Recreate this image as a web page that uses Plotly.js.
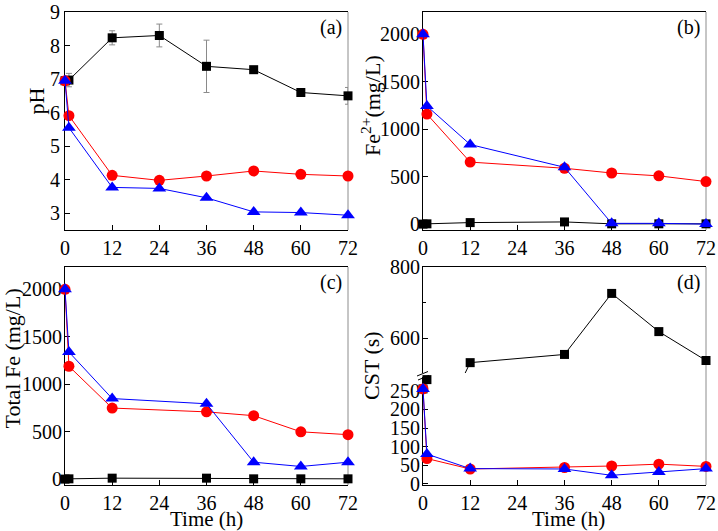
<!DOCTYPE html>
<html>
<head>
<meta charset="utf-8">
<script src="https://cdn.plot.ly/plotly-3.0.1.min.js"></script>
<style>html,body{margin:0;padding:0;background:#fff;}#chart{width:718px;height:531px;}</style>
</head>
<body>
<div id="chart"></div>
<script>
// ---- data ----
const timeA = [0, 1, 12, 24, 36, 48, 60, 72];
const timeBCD = [0, 1, 12, 36, 48, 60, 72];
const xTicks = [0, 12, 24, 36, 48, 60, 72];

const pHBlack = [6.95, 6.97, 8.23, 8.30, 7.38, 7.28, 6.60, 6.50];
const pHBlackErr = [0, 0.20, 0.21, 0.34, 0.78, 0.05, 0.05, 0.25];
const pHRed = [6.95, 5.91, 4.13, 3.98, 4.11, 4.26, 4.16, 4.11];
const pHBlue = [6.95, 5.55, 3.77, 3.74, 3.46, 3.04, 3.02, 2.94];

const fe2Black = [2, 5, 18, 25, 5, 5, 5];
const fe2Red = [2000, 1160, 655, 590, 540, 510, 450];
const fe2Blue = [2000, 1245, 840, 600, 10, 10, 2];

const totFeBlack = [2, 5, 12, 12, 5, 5, 5];
const totFeRed = [2000, 1190, 750, 710, 670, 500, 470];
const totFeBlue = [2000, 1340, 850, 795, 180, 135, 180];

const cstBlack = [255, 280, 532, 555, 726, 619, 538];
const cstRed = [255, 68, 40, 44, 48, 53, 47];
const cstBlue = [255, 80, 41, 40, 23, 32, 41];

const panelLabels = ['(a)', '(b)', '(c)', '(d)'];

// ---- styles ----
const FONT = 'Liberation Serif, Times New Roman, serif';
const W = 718, H = 531;
const px = v => v / W;
const py = v => 1 - v / H;
const domL = [px(65), px(348)], domR = [px(423), px(706)];
const domTop = [py(230), py(12)], domBot = [py(485), py(267)];
const breakLo = py(377), breakHi = py(373);

const mk = {
  black: {symbol: 'square', size: 9, color: '#000'},
  red: {symbol: 'circle', size: 11, color: '#ff0000'},
  blue: {symbol: 'triangle-up', size: 12, color: '#0000ff'}
};
const ln = {black: '#000', red: '#ff0000', blue: '#0000ff'};

function tr(x, y, c, xa, ya, extra) {
  return Object.assign({
    type: 'scatter', mode: 'lines+markers', x: x, y: y,
    xaxis: xa, yaxis: ya, marker: mk[c], line: {color: ln[c], width: 1},
    cliponaxis: false, showlegend: false, hoverinfo: 'skip'
  }, extra || {});
}

const data = [
  tr(timeA, pHBlack, 'black', 'x', 'y', {error_y: {type: 'data', array: pHBlackErr, visible: true, color: '#8a8a8a', thickness: 1, width: 3}}),
  tr(timeA, pHRed, 'red', 'x', 'y'),
  tr(timeA, pHBlue, 'blue', 'x', 'y'),
  tr(timeBCD, fe2Black, 'black', 'x2', 'y2'),
  tr(timeBCD, fe2Red, 'red', 'x2', 'y2'),
  tr(timeBCD, fe2Blue, 'blue', 'x2', 'y2'),
  tr(timeBCD, totFeBlack, 'black', 'x3', 'y3'),
  tr(timeBCD, totFeRed, 'red', 'x3', 'y3'),
  tr(timeBCD, totFeBlue, 'blue', 'x3', 'y3'),
  tr(timeBCD, cstBlack, 'black', 'x5', 'y5'),
  tr(timeBCD, cstBlack, 'black', 'x4', 'y4'),
  tr(timeBCD, cstRed, 'red', 'x4', 'y4'),
  tr(timeBCD, cstBlue, 'blue', 'x4', 'y4')
];

const tickFont = {family: FONT, size: 20, color: '#000'};
function ax(o) {
  return Object.assign({
    showline: true, linecolor: '#000', linewidth: 1, ticks: 'inside', ticklen: 5,
    tickwidth: 1, tickcolor: '#000', tickfont: tickFont, showgrid: false,
    zeroline: false, layer: 'below traces', fixedrange: true
  }, o);
}
function xax(dom, anchor) {
  return ax({domain: dom, anchor: anchor, range: [0, 72], tickvals: xTicks, mirror: true});
}

const layout = {
  width: W, height: H,
  margin: {l: 0, r: 0, t: 0, b: 0},
  paper_bgcolor: '#fff', plot_bgcolor: '#fff',
  showlegend: false,
  xaxis: xax(domL, 'y'),
  yaxis: ax({domain: domTop, anchor: 'x', range: [2.5, 9], dtick: 1, tick0: 0}),
  xaxis2: xax(domR, 'y2'),
  yaxis2: ax({domain: domTop, anchor: 'x2', range: [-60, 2235], dtick: 500, tick0: 0, ticklabelstandoff: -2}),
  xaxis3: xax(domL, 'y3'),
  yaxis3: ax({domain: domBot, anchor: 'x3', range: [-60, 2235], dtick: 500, tick0: 0, ticklabelstandoff: -2}),
  xaxis4: ax({domain: domR, anchor: 'y4', range: [0, 72], tickvals: xTicks, mirror: false}),
  yaxis4: ax({domain: [domBot[0], breakLo], anchor: 'x4', range: [-3, 287], dtick: 50, tick0: 0, ticklabelstandoff: -2}),
  xaxis5: ax({domain: domR, anchor: 'y5', range: [0, 72], side: 'top', ticks: '', showticklabels: false, mirror: false}),
  yaxis5: ax({domain: [breakHi, domBot[1]], anchor: 'x5', range: [503, 800], dtick: 200, tick0: 0,
    minor: {dtick: 100, ticks: 'inside', ticklen: 3, tickcolor: '#000'}, ticklabelstandoff: -2}),
  shapes: [],
  annotations: []
};

// gray right borders
[['x', 'y'], ['x2', 'y2'], ['x3', 'y3']].forEach(([xa, ya]) => {
  layout.shapes.push({type: 'line', xref: xa + ' domain', yref: ya + ' domain', x0: 1, x1: 1, y0: 0, y1: 1,
    line: {color: '#8c8c8c', width: 1}, layer: 'below'});
});
layout.shapes.push({type: 'line', xref: 'x4 domain', yref: 'paper', x0: 1, x1: 1, y0: domBot[0], y1: domBot[1],
  line: {color: '#8c8c8c', width: 1}, layer: 'below'});
// axis break marks
layout.shapes.push({type: 'line', xref: 'paper', yref: 'paper', x0: px(417), x1: px(428), y0: py(376), y1: py(371.5), line: {color: '#000', width: 1}});
layout.shapes.push({type: 'line', xref: 'paper', yref: 'paper', x0: px(418), x1: px(429), y0: py(380), y1: py(375.5), line: {color: '#000', width: 1}});

// panel labels
[['x', 'y'], ['x2', 'y2'], ['x3', 'y3'], ['x5', 'y5']].forEach(([xa, ya], i) => {
  layout.annotations.push({text: panelLabels[i], xref: xa + ' domain', yref: ya + ' domain',
    x: 0.985, y: (i === 3 ? 0.98 : 0.99), xanchor: 'right', yanchor: 'top', showarrow: false,
    font: {family: FONT, size: 20, color: '#000'}});
});

// axis titles
function ttl(text, x, y, angle, size) {
  layout.annotations.push({text: text, xref: 'paper', yref: 'paper', x: px(x), y: py(y),
    xanchor: 'center', yanchor: 'middle', textangle: angle, showarrow: false,
    font: {family: FONT, size: size, color: '#000'}});
}
ttl('pH', 36, 101.5, -90, 22);
ttl('Fe<sup>2+</sup>(mg/L)', 371, 106, -90, 22);
ttl('Total Fe (mg/L)', 12, 358.5, -90, 22);
ttl('CST (s)', 371, 366, -90, 22);
ttl('Time (h)', 207, 519, 0, 21);
ttl('Time (h)', 568, 519, 0, 21);

Plotly.newPlot('chart', data, layout, {staticPlot: true, displayModeBar: false});
</script>
</body>
</html>
